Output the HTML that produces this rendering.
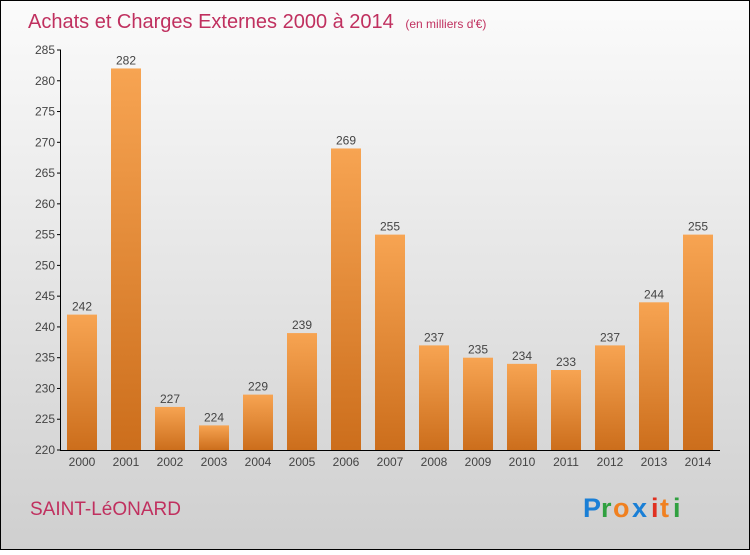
<!DOCTYPE html>
<html><head><meta charset="utf-8"><style>
body{margin:0;width:750px;height:550px;overflow:hidden;font-family:"Liberation Sans",sans-serif}
</style></head><body>
<svg id="chart" width="750" height="550" xmlns="http://www.w3.org/2000/svg">
<defs>
<linearGradient id="bg" x1="0" y1="0" x2="0" y2="1"><stop offset="0" stop-color="#fbfbfb"/><stop offset="1" stop-color="#cfcfcf"/></linearGradient>
<linearGradient id="bar" x1="0" y1="0" x2="0" y2="1"><stop offset="0" stop-color="#f7a452"/><stop offset="1" stop-color="#cc6e1c"/></linearGradient>
</defs>
<rect x="0.5" y="0.5" width="749" height="549" fill="url(#bg)" stroke="#000"/>
<text x="28" y="28" font-size="20" fill="#c0305f">Achats et Charges Externes 2000 à 2014 <tspan font-size="12" dx="6">(en milliers d'€)</tspan></text>
<g id="grid"></g><g id="bars"></g><g id="axes"></g>
<text x="30" y="515" font-size="19" fill="#c0305f">SAINT-LéONARD</text>
<g font-size="27" font-weight="bold">
<text x="583" y="517" fill="#1a7fd6">P</text><text x="601" y="517" fill="#30a040">r</text><text x="613" y="517" fill="#f08020">o</text><text x="632" y="517" fill="#1a7fd6">x</text><text x="651" y="517" fill="#e03020">i</text><text x="660" y="517" fill="#f08020">t</text><text x="673" y="517" fill="#30a040">i</text>
</g>
</svg>
<script>
const years=["2000","2001","2002","2003","2004","2005","2006","2007","2008","2009","2010","2011","2012","2013","2014"];
const values=[242,282,227,224,229,239,269,255,237,235,234,233,237,244,255];
const yTicks=[220,225,230,235,240,245,250,255,260,265,270,275,280,285];
const NS="http://www.w3.org/2000/svg";
const y0=450,y1=50,vmin=220,vmax=285;
function yS(v){return y0-(v-vmin)/(vmax-vmin)*(y0-y1);}
function xS(i){return 82+i*44;}
function mk(t,a,p){const e=document.createElementNS(NS,t);for(const k in a)e.setAttribute(k,a[k]);p.appendChild(e);return e;}
const bars=document.getElementById('bars'),axes=document.getElementById('axes');
yTicks.forEach(v=>{
 const tk=mk('line',{x1:57,x2:61,y1:yS(v),y2:yS(v),stroke:'#000'},axes);
 
 
 const t=mk('text',{x:55,y:yS(v)+4,'text-anchor':'end','font-size':12,fill:'#444'},axes);
 t.textContent=v;
 
 
});
values.forEach((v,i)=>{
 const r=mk('rect',{x:xS(i)-15,y:yS(v),width:30,height:y0-yS(v),fill:'url(#bar)'},bars);
 
 
 const t=mk('text',{x:xS(i),y:yS(v)-4,'text-anchor':'middle','font-size':12,fill:'#444'},bars);
 t.textContent=v;
 
 
 const xl=mk('text',{x:xS(i),y:466,'text-anchor':'middle','font-size':12,fill:'#444'},axes);
 xl.textContent=years[i];
 
 
});
const ya=mk('line',{x1:60.5,x2:60.5,y1:50,y2:450,stroke:'#000'},axes);


const xa=mk('line',{x1:60,x2:720,y1:450.5,y2:450.5,stroke:'#000'},axes);


</script>
</body></html>
